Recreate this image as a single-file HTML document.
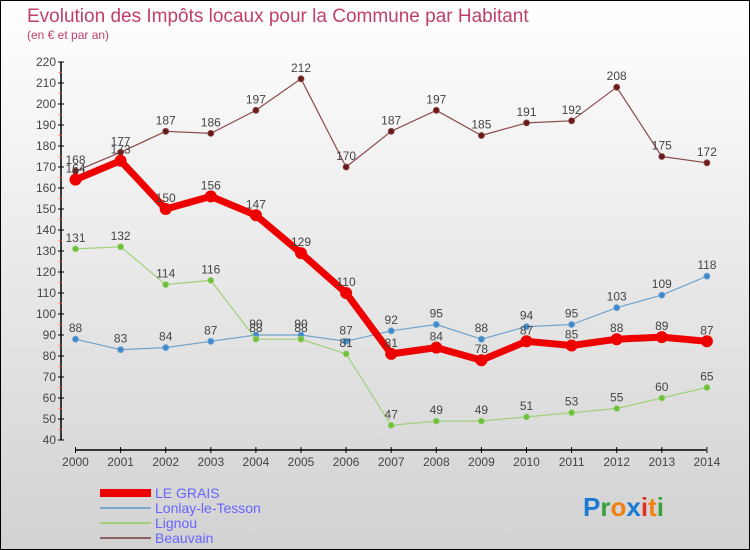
<!DOCTYPE html>
<html><head><meta charset="utf-8"><style>
body{margin:0}
#c{width:750px;height:550px;position:relative;background:linear-gradient(#fff,#d2d2d2);box-sizing:border-box;border:1px solid #000;font-family:"Liberation Sans",sans-serif;overflow:hidden}
</style></head><body>
<div id="c">
<svg width="750" height="550" style="position:absolute;left:-1px;top:-1px" id="s">
<text x="27" y="22" font-size="19" fill="#c0406a">Evolution des Impôts locaux pour la Commune par Habitant</text>
<text x="27" y="39" font-size="12" fill="#c0406a">(en € et par an)</text>
<g id="ax"></g><g id="ser"></g>
<g>
<rect x="100" y="489" width="51" height="8" fill="#e00"/>
<text x="155" y="498" font-size="14" fill="#6666ff">LE GRAIS</text>
<rect x="100" y="507" width="51" height="2" fill="#7aa7cc"/>
<text x="155" y="513" font-size="14" fill="#6666ff">Lonlay-le-Tesson</text>
<rect x="100" y="522" width="51" height="2" fill="#9fd07a"/>
<text x="155" y="528" font-size="14" fill="#6666ff">Lignou</text>
<rect x="100" y="537" width="51" height="2" fill="#8a6060"/>
<text x="155" y="543" font-size="14" fill="#6666ff">Beauvain</text>
</g>
<text x="583" y="516" font-size="26" font-weight="bold"><tspan fill="#1a7ad4">P</tspan><tspan fill="#3aa040">r</tspan><tspan fill="#f08010">o</tspan><tspan fill="#1a7ad4">x</tspan><tspan fill="#e03020">i</tspan><tspan fill="#f08010">t</tspan><tspan fill="#3aa040">i</tspan></text>
</svg>
</div>
<script>
const years=[2000,2001,2002,2003,2004,2005,2006,2007,2008,2009,2010,2011,2012,2013,2014];
const leGrais=[164,173,150,156,147,129,110,81,84,78,87,85,88,89,87];
const lonlay=[88,83,84,87,90,90,87,92,95,88,94,95,103,109,118];
const lignou=[131,132,114,116,88,88,81,47,49,49,51,53,55,60,65];
const beauvain=[168,177,187,186,197,212,170,187,197,185,191,192,208,175,172];
const yTicks=[40,50,60,70,80,90,100,110,120,130,140,150,160,170,180,190,200,210,220];
const NS='http://www.w3.org/2000/svg';
const xs=i=>75.5+i*45.1;
const ys=v=>440-(v-40)*2.1;
function mk(t,a,p){const e=document.createElementNS(NS,t);for(const k in a)e.setAttribute(k,a[k]);p.appendChild(e);return e;}
const ax=document.getElementById('ax'),ser=document.getElementById('ser');
let l=mk('line',{x1:61,y1:ys(220),x2:61,y2:ys(40),stroke:'#000','stroke-width':1.5},ax);


yTicks.forEach(v=>{mk('line',{x1:58,x2:64,y1:ys(v),y2:ys(v),stroke:'#000'},ax);
if(v>40)mk('line',{x1:59,x2:62,y1:ys(v)+10.5,y2:ys(v)+10.5,stroke:'#f44'},ax);
const t=mk('text',{x:56,y:ys(v)+4,'text-anchor':'end','font-size':12,fill:'#444'},ax);t.textContent=v;

});
l=mk('line',{x1:75,y1:450,x2:706,y2:450,stroke:'#000','stroke-width':1.5},ax);


years.forEach((y,i)=>{mk('line',{x1:xs(i),x2:xs(i),y1:447,y2:453,stroke:'#000'},ax);
const t=mk('text',{x:xs(i),y:466,'text-anchor':'middle','font-size':12,fill:'#444'},ax);t.textContent=y;

});
function draw(data,color,dot,w,r,name){
const g=mk('g',{},ser);


const pts=data.map((v,i)=>xs(i)+','+ys(v)).join(' ');
mk('polyline',{points:pts,fill:'none',stroke:color,'stroke-width':w,'stroke-linejoin':'round'},g);
data.forEach((v,i)=>{const c=mk('circle',{cx:xs(i),cy:ys(v),r:r,fill:dot,stroke:color,'stroke-width':w>3?2:0.8},g);


const t=mk('text',{x:xs(i),y:ys(v)-7,'text-anchor':'middle','font-size':12,fill:'#444'},g);t.textContent=v;});}
draw(lonlay,'#6fa2cc','#3e8ad0',1.2,3,'lonlay');
draw(lignou,'#9fd07a','#6cc03a',1.2,3,'lignou');
draw(beauvain,'#8a4a4a','#6a1a1a',1.2,3,'beauvain');
draw(leGrais,'#ee0000','#ee0000',7,5,'le-grais');
</script>
</body></html>
